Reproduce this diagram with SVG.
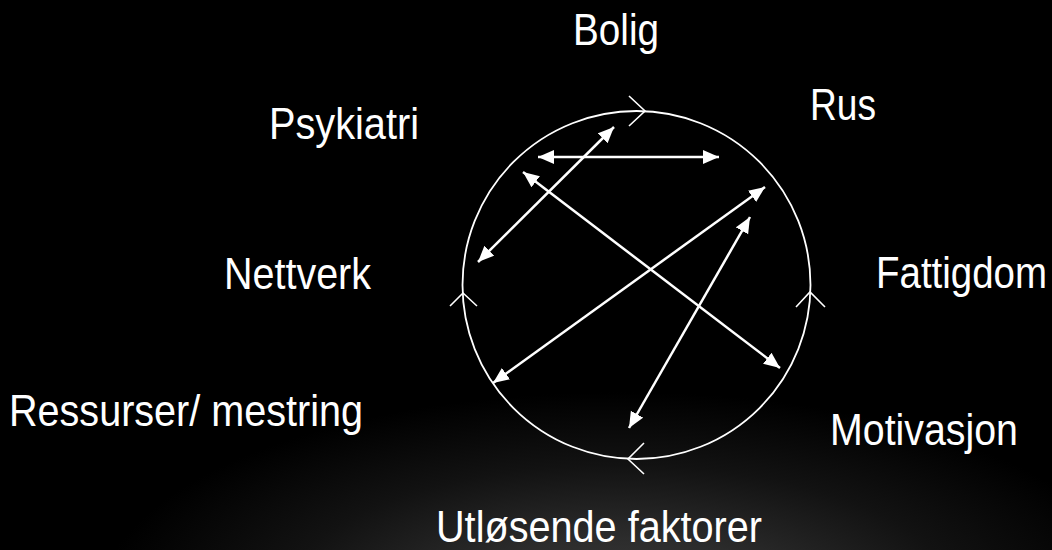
<svg xmlns="http://www.w3.org/2000/svg" width="1052" height="550" viewBox="0 0 1052 550">
<defs>
<radialGradient id="bg" gradientUnits="userSpaceOnUse" cx="620" cy="600" r="520" gradientTransform="translate(620,600) scale(1,0.4) translate(-620,-600)">
<stop offset="0" stop-color="#3c3c3c"/>
<stop offset="0.3" stop-color="#2c2c2c"/>
<stop offset="0.65" stop-color="#121212"/>
<stop offset="1" stop-color="#000"/>
</radialGradient>
<marker id="ah" markerUnits="userSpaceOnUse" markerWidth="18" markerHeight="16" refX="16" refY="7" orient="auto-start-reverse" viewBox="0 0 18 16">
<path d="M0,0 L16,7 L0,14 z" fill="#fff"/>
</marker>
<style>
.lbl{font-family:"Liberation Sans",Arial,sans-serif;font-size:44px;fill:#fff}
.con{stroke:#fff;stroke-width:2.5;fill:none;marker-start:url(#ah);marker-end:url(#ah)}
.chev{stroke:#fff;stroke-width:1.6;fill:none}
</style>
</defs>
<rect width="1052" height="550" fill="#000"/>
<rect width="1052" height="550" fill="url(#bg)"/>
<g id="cycle">
<circle cx="636.5" cy="285" r="174" fill="none" stroke="#fff" stroke-width="1.8"/>
<path class="chev" d="M629,96 L645,111 L629,126"/>
<path class="chev" d="M644,443 L628,459 L644,474"/>
<path class="chev" d="M450,306 L463,293 L477,306"/>
<path class="chev" d="M796,307 L810,292 L825,307"/>
</g>
<g id="connectors">
<line class="con" x1="538" y1="157" x2="719" y2="157"/>
<line class="con" x1="614" y1="127" x2="478" y2="262"/>
<line class="con" x1="523" y1="172" x2="780" y2="368"/>
<line class="con" x1="765" y1="187" x2="493" y2="383"/>
<line class="con" x1="750" y1="217" x2="629" y2="428"/>
</g>
<g id="bolig"><text class="lbl" x="573" y="45" textLength="86" lengthAdjust="spacingAndGlyphs">Bolig</text></g>
<g id="psykiatri"><text class="lbl" x="269" y="139" textLength="150" lengthAdjust="spacingAndGlyphs">Psykiatri</text></g>
<g id="rus"><text class="lbl" x="810" y="120" textLength="66" lengthAdjust="spacingAndGlyphs">Rus</text></g>
<g id="nettverk"><text class="lbl" x="224" y="289" textLength="147" lengthAdjust="spacingAndGlyphs">Nettverk</text></g>
<g id="fattigdom"><text class="lbl" x="876" y="288" textLength="171" lengthAdjust="spacingAndGlyphs">Fattigdom</text></g>
<g id="ressurser"><text class="lbl" x="9" y="426" textLength="354" lengthAdjust="spacingAndGlyphs">Ressurser/ mestring</text></g>
<g id="motivasjon"><text class="lbl" x="830" y="445" textLength="188" lengthAdjust="spacingAndGlyphs">Motivasjon</text></g>
<g id="utlosende"><text class="lbl" x="436" y="542" textLength="326" lengthAdjust="spacingAndGlyphs">Utløsende faktorer</text></g>
</svg>
